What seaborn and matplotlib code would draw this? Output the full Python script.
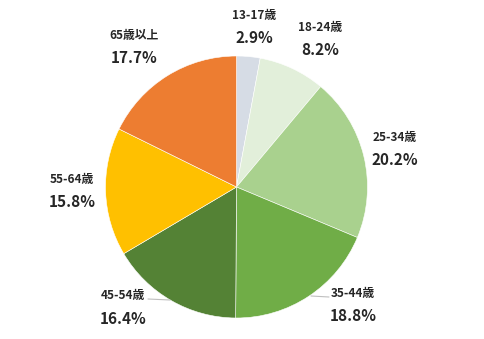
import matplotlib
matplotlib.use("Agg")
import matplotlib.pyplot as plt
import seaborn as sns

sns.set_theme(style="white")
plt.rcParams['font.family'] = ['Noto Sans CJK JP', 'DejaVu Sans']

# Data
categories = ["13-17歳", "18-24歳", "25-34歳", "35-44歳", "45-54歳", "55-64歳", "65歳以上"]
values = [2.9, 8.2, 20.2, 18.8, 16.4, 15.8, 17.7]
pct_labels = ["2.9%", "8.2%", "20.2%", "18.8%", "16.4%", "15.8%", "17.7%"]

# Styles / layout
colors = ["#D6DCE5", "#E2EFDA", "#A9D18E", "#70AD47", "#548235", "#FFC000", "#ED7D31"]
label_pos = [(254, 15), (320, 27), (395, 137), (353, 293), (123, 296), (72, 179), (134, 35)]
pct_offset = 23
leaders = {3: ((311, 296), (329, 297)), 4: ((148, 299), (170, 300))}

fig = plt.figure(figsize=(4.84, 3.39), dpi=100)
ax = fig.add_axes([0, 0, 1, 1])

# y axis is inverted below, so visually-clockwise from top = data counterclockwise from -90
ax.pie(values, colors=colors, startangle=-90, counterclock=True,
       center=(236.5, 187), radius=131,
       wedgeprops=dict(edgecolor="white", linewidth=0.4), frame=True)
ax.set_xlim(0, 484)
ax.set_ylim(339, 0)
ax.set_aspect("auto")
ax.axis("off")

for i, (cat, pct) in enumerate(zip(categories, pct_labels)):
    x, y = label_pos[i]
    ax.text(x, y, cat, ha="center", va="center", fontsize=8.5,
            fontweight="bold", color="#262626")
    ax.text(x, y + pct_offset, pct, ha="center", va="center", fontsize=11,
            fontweight="bold", color="#262626")

for i, (p0, p1) in leaders.items():
    ax.plot([p0[0], p1[0]], [p0[1], p1[1]], color="#BFBFBF", linewidth=0.8)

fig.savefig("out.png", dpi=100, facecolor="white")
